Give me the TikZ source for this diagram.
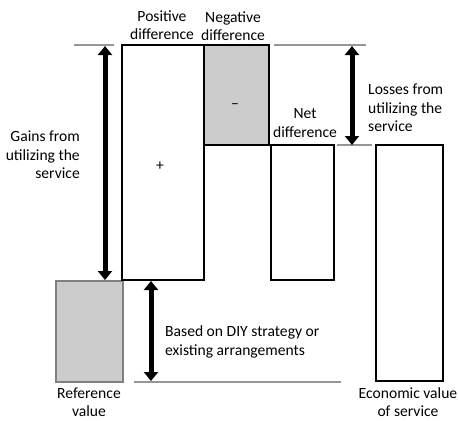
\documentclass[tikz,border=0pt]{standalone}
\usepackage{fontspec}
\setmainfont{Carlito}
\usetikzlibrary{arrows.meta}
\definecolor{boxgrey}{RGB}{204,204,204}
\definecolor{rulegrey}{RGB}{150,150,150}
\begin{document}
\begin{tikzpicture}[x=1pt,y=-1pt,
  bar/.style={draw=black, line width=1.5pt, inner sep=0pt, anchor=center},
  txt/.style={font=\fontsize{15.6}{18.5}\selectfont, inner sep=0pt},
  guide/.style={draw=rulegrey, line width=1.5pt},
  span/.style={line width=5pt, {Triangle[width=14pt,length=9pt]}-{Triangle[width=14pt,length=9pt]}}]
\useasboundingbox (0,0) rectangle (459,421);
\fill[white] (0,0) rectangle (459,421);

% bars
\node[bar, draw=gray, fill=boxgrey, minimum width=67pt, minimum height=101pt] (ref) at (89.5,331.5) {};
\node[bar, minimum width=82pt, minimum height=235pt] (pos) at (163,162.5) {};
\node[bar, fill=boxgrey, minimum width=65pt, minimum height=100pt] (neg) at (236.5,95) {};
\node[bar, minimum width=63pt, minimum height=135pt] (net) at (302.5,212.5) {};
\node[bar, minimum width=67pt, minimum height=236pt] (econ) at (409.5,263) {};

\node[txt] (plus) at (160,166) {+};
\node[txt] (minus) at (235,106) {--};

% guide lines
\coordinate (gA) at (74,45);  \coordinate (gB) at (114,45);
\coordinate (gC) at (274,45); \coordinate (gD) at (366,45);
\coordinate (gE) at (337,145); \coordinate (gF) at (372,145);
\coordinate (gG) at (134,382); \coordinate (gH) at (341,382);
\draw[guide] (gA) -- (gB);
\draw[guide] (gC) -- (gD);
\draw[guide] (gE) -- (gF);
\draw[guide] (gG) -- (gH);

% spans
\coordinate (a1) at (105,46);  \coordinate (a2) at (105,280);
\coordinate (b1) at (352,46);  \coordinate (b2) at (352,145);
\coordinate (c1) at (151,281); \coordinate (c2) at (151,381);
\draw[span] (a1) -- (a2);
\draw[span] (b1) -- (b2);
\draw[span] (c1) -- (c2);

% labels
\node[txt, align=center] (lpos) at (162,25) {Positive\\difference};
\node[txt, align=center] (lneg) at (233,26) {Negative\\difference};
\node[txt, align=center] (lnet) at (305,123) {Net\\difference};
\node[txt, align=left, anchor=west] (lloss) at (368,108) {Losses from\\utilizing the\\service};
\node[txt, align=right, anchor=east] (lgain) at (80,155) {Gains from\\utilizing the\\service};
\node[txt, align=left, anchor=west] (ldiy) at (165,342) {Based on DIY strategy or\\existing arrangements};
\node[txt, align=center] (lref) at (89,402) {Reference\\value};
\node[txt, align=center] (lecon) at (408,402) {Economic value\\of service};
\end{tikzpicture}
\end{document}
